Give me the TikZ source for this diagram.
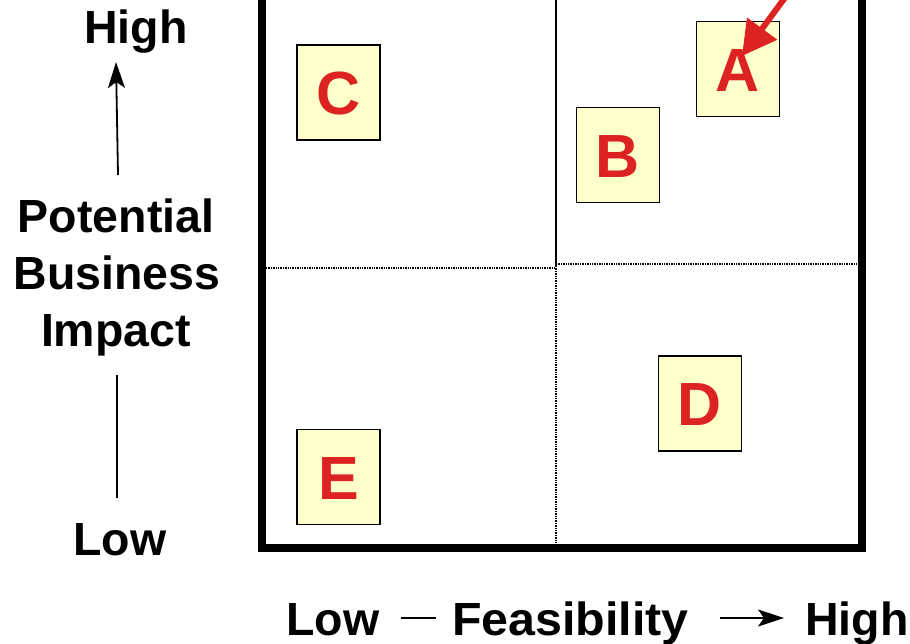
\documentclass[tikz,border=0pt]{standalone}
\usepackage{fontspec}
\setmainfont{Liberation Sans}
\usetikzlibrary{arrows.meta}
\definecolor{cardfill}{HTML}{FFFFCC}
\definecolor{cardred}{HTML}{DD2222}

\begin{document}
\begin{tikzpicture}[x=1pt,y=-1pt,
  lbl/.style={inner sep=0pt, font=\fontsize{46.5}{54}\selectfont\bfseries},
  card/.style={draw=black, line width=1.5pt, fill=cardfill,
    minimum width=83pt, minimum height=95pt, inner sep=0pt,
    text height=44pt, text depth=0pt, text=cardred,
    font=\fontsize{61}{61}\selectfont\bfseries},
  axisarrow/.style={line width=1.8pt, -{Stealth[length=26pt,width=17pt,inset=6pt]}},
  axisline/.style={line width=1.8pt},
  grid/.style={line width=1.4pt, densely dotted}]
\useasboundingbox (0,0) rectangle (910,643);
\begin{scope}
\clip (0,0) rectangle (910,643);

% quadrant frame (top edge lies above the page)
\draw[line width=8pt] (262,-10) -- (262,548) -- (862,548) -- (862,-10) -- cycle;
\draw[line width=1.3pt] (556,-10) -- (556,266);
\draw[grid] (556,266) -- (556,548);
\draw[grid] (266,268) -- (556,268);
\draw[grid] (556,264) -- (858,264);

% initiative cards
\node[card] (C) at (338.5,92.5) {C};
\node[card] (B) at (618,155) {B};
\node[card] (A) at (738,69) {A};
\node[card] (D) at (700,403.5) {D};
\node[card] (E) at (338.5,477) {E};

% pointer to the top pick
\coordinate (ptrstart) at (806,-31);
\coordinate (ptrtip) at (742,56);
\draw[cardred, line width=6pt, -{Triangle[length=34pt,width=36pt]}] (ptrstart) -- (ptrtip);
\end{scope}

% vertical axis
\node[lbl, anchor=base] (yhigh) at (136,43) {High};
\node[lbl, anchor=base] (pot) at (116,232) {Potential};
\node[lbl, anchor=base] (bus) at (117,289) {Business};
\node[lbl, anchor=base] (imp) at (116,346) {Impact};
\node[lbl, anchor=base] (ylow) at (120,555) {Low};
\coordinate (yup0) at (118,175);
\coordinate (yup1) at (116,62);
\coordinate (ydn0) at (117,375);
\coordinate (ydn1) at (117,498);
\draw[axisarrow] (yup0) -- (yup1);
\draw[axisline] (ydn0) -- (ydn1);

% horizontal axis
\node[lbl, anchor=base west] (xlow) at (286,635) {Low};
\node[lbl, anchor=base west, xscale=1.04] (feas) at (452,635) {Feasibility};
\node[lbl, anchor=base west] (xhigh) at (805,635) {High};
\coordinate (xd0) at (401,618);
\coordinate (xd1) at (436,618);
\coordinate (xa0) at (720,618);
\coordinate (xa1) at (784,618);
\draw[axisline] (xd0) -- (xd1);
\draw[axisarrow] (xa0) -- (xa1);
\end{tikzpicture}
\end{document}
